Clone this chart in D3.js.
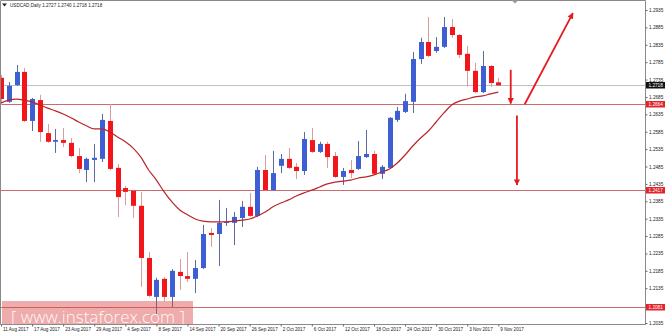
<!DOCTYPE html>
<html>
<head>
<meta charset="utf-8">
<script src="https://cdn.jsdelivr.net/npm/d3@7"></script>
<style>
body { margin: 0; background: #fff; }
svg text { font-family: "Liberation Sans", Arial, sans-serif; }
</style>
</head>
<body>
<svg id="chart" width="665" height="335"></svg>
<script>
// USDCAD daily, 11 Aug 2017 - 9 Nov 2017
var dates = ["2017-08-11","2017-08-14","2017-08-15","2017-08-16","2017-08-17","2017-08-18","2017-08-21","2017-08-22","2017-08-23","2017-08-24",
    "2017-08-25","2017-08-28","2017-08-29","2017-08-30","2017-08-31","2017-09-01","2017-09-04","2017-09-05","2017-09-06","2017-09-07",
    "2017-09-08","2017-09-11","2017-09-12","2017-09-13","2017-09-14","2017-09-15","2017-09-18","2017-09-19","2017-09-20","2017-09-21",
    "2017-09-22","2017-09-25","2017-09-26","2017-09-27","2017-09-28","2017-09-29","2017-10-02","2017-10-03","2017-10-04","2017-10-05",
    "2017-10-06","2017-10-09","2017-10-10","2017-10-11","2017-10-12","2017-10-13","2017-10-16","2017-10-17","2017-10-18","2017-10-19",
    "2017-10-20","2017-10-23","2017-10-24","2017-10-25","2017-10-26","2017-10-27","2017-10-30","2017-10-31","2017-11-01","2017-11-02",
    "2017-11-03","2017-11-06","2017-11-07","2017-11-08","2017-11-09"];
var open = [1.2740, 1.2671, 1.2719, 1.2757, 1.2616, 1.2676, 1.2581, 1.2556, 1.2561, 1.2553,
    1.2515, 1.2475, 1.2504, 1.2507, 1.2616, 1.2481, 1.2423, 1.2415, 1.2372, 1.2222,
    1.2110, 1.2162, 1.2110, 1.2182, 1.2170, 1.2162, 1.2193, 1.2294, 1.2291, 1.2323,
    1.2323, 1.2337, 1.2369, 1.2343, 1.2475, 1.2417, 1.2487, 1.2507, 1.2484, 1.2472,
    1.2561, 1.2527, 1.2550, 1.2515, 1.2455, 1.2475, 1.2478, 1.2512, 1.2521, 1.2464,
    1.2481, 1.2619, 1.2642, 1.2671, 1.2794, 1.2843, 1.2817, 1.2829, 1.2886, 1.2863,
    1.2809, 1.2760, 1.2699, 1.2774, 1.2727];
var high = [1.2748, 1.2728, 1.2777, 1.2768, 1.2682, 1.2691, 1.2607, 1.2593, 1.2596, 1.2567,
    1.2538, 1.2510, 1.2550, 1.2636, 1.2665, 1.2492, 1.2429, 1.2417, 1.2412, 1.2239,
    1.2165, 1.2167, 1.2190, 1.2219, 1.2239, 1.2216, 1.2317, 1.2308, 1.2389, 1.2366,
    1.2354, 1.2386, 1.2409, 1.2484, 1.2518, 1.2530, 1.2521, 1.2538, 1.2495, 1.2584,
    1.2596, 1.2556, 1.2556, 1.2527, 1.2481, 1.2504, 1.2558, 1.2590, 1.2530, 1.2489,
    1.2627, 1.2656, 1.2694, 1.2814, 1.2855, 1.2915, 1.2857, 1.2915, 1.2909, 1.2866,
    1.2832, 1.2783, 1.2817, 1.2777, 1.2740];
var low = [1.2662, 1.2668, 1.2717, 1.2613, 1.2587, 1.2556, 1.2553, 1.2524, 1.2541, 1.2512,
    1.2466, 1.2440, 1.2440, 1.2498, 1.2475, 1.2340, 1.2374, 1.2337, 1.2139, 1.2110,
    1.2061, 1.2098, 1.2081, 1.2130, 1.2153, 1.2121, 1.2190, 1.2254, 1.2199, 1.2314,
    1.2259, 1.2311, 1.2340, 1.2340, 1.2415, 1.2415, 1.2466, 1.2478, 1.2449, 1.2461,
    1.2524, 1.2524, 1.2481, 1.2452, 1.2432, 1.2452, 1.2475, 1.2510, 1.2461, 1.2449,
    1.2478, 1.2613, 1.2639, 1.2639, 1.2780, 1.2800, 1.2812, 1.2826, 1.2855, 1.2797,
    1.2714, 1.2696, 1.2696, 1.2714, 1.2718];
var close = [1.2679, 1.2717, 1.2757, 1.2616, 1.2679, 1.2584, 1.2556, 1.2561, 1.2553, 1.2515,
    1.2478, 1.2507, 1.2510, 1.2619, 1.2478, 1.2397, 1.2412, 1.2372, 1.2222, 1.2113,
    1.2159, 1.2110, 1.2185, 1.2170, 1.2162, 1.2193, 1.2291, 1.2288, 1.2323, 1.2326,
    1.2340, 1.2369, 1.2343, 1.2475, 1.2417, 1.2466, 1.2507, 1.2481, 1.2472, 1.2564,
    1.2527, 1.2550, 1.2512, 1.2455, 1.2472, 1.2466, 1.2515, 1.2521, 1.2464, 1.2484,
    1.2625, 1.2645, 1.2673, 1.2794, 1.2843, 1.2803, 1.2829, 1.2886, 1.2863, 1.2806,
    1.2760, 1.2699, 1.2774, 1.2725, 1.2718];
// moving average as drawn on the chart
var ma = [1.2668, 1.2676, 1.2679, 1.2676, 1.2671, 1.2662, 1.2653, 1.2645, 1.2636, 1.2625,
    1.2613, 1.2602, 1.2593, 1.2593, 1.2584, 1.2570, 1.2556, 1.2538, 1.2512, 1.2475,
    1.2446, 1.2412, 1.2383, 1.2360, 1.2346, 1.2334, 1.2328, 1.2326, 1.2326, 1.2326,
    1.2328, 1.2331, 1.2334, 1.2343, 1.2354, 1.2369, 1.2380, 1.2389, 1.2400, 1.2409,
    1.2417, 1.2426, 1.2435, 1.2440, 1.2443, 1.2446, 1.2452, 1.2455, 1.2461, 1.2469,
    1.2478, 1.2495, 1.2518, 1.2544, 1.2567, 1.2587, 1.2613, 1.2639, 1.2662, 1.2673,
    1.2679, 1.2685, 1.2688, 1.2694, 1.2699];
var priceTicks = [1.2935, 1.2885, 1.2835, 1.2785, 1.2735, 1.2685, 1.2635, 1.2585, 1.2535, 1.2485,
    1.2435, 1.2385, 1.2335, 1.2285, 1.2235, 1.2185, 1.2135, 1.2085, 1.2035];
var levels = [1.2664, 1.2417, 1.2081];
var bid = 1.2718;
var title = "USDCAD,Daily  1.2727 1.2740 1.2718 1.2718";
// arrows: [bar index, price] -> [bar index, price]
var arrows = [
    [[65.6, 1.2763], [65.6, 1.2666]],
    [[66.4, 1.2632], [66.4, 1.2432]],
    [[67.4, 1.2664], [73.6, 1.2926]]
];
var watermark = "[  www.instaforex.com  ]";

var width = 665, height = 335;
var plotRight = 645, plotBottom = 324;

var svg = d3.select("#chart");

var x = d3.scaleLinear().domain([0, dates.length - 1]).range([1, 498.3]);
var y = d3.scaleLinear().domain([1.2935, 1.2035]).range([10, 323]);

var parse = d3.timeParse("%Y-%m-%d");
var fmt = d3.timeFormat("%-d %b %Y");

var defs = svg.append("defs");
defs.append("clipPath").attr("id", "plot")
    .append("rect").attr("x", 1).attr("y", 1).attr("width", plotRight - 1).attr("height", plotBottom - 1);
defs.append("marker")
    .attr("id", "head")
    .attr("viewBox", "0 0 10 10")
    .attr("refX", 9).attr("refY", 5)
    .attr("markerWidth", 3.4).attr("markerHeight", 3.4)
    .attr("orient", "auto")
    .append("path").attr("d", "M0,0L10,5L0,10z").attr("fill", "#e8191e");

var plot = svg.append("g").attr("clip-path", "url(#plot)");

// horizontal levels
plot.append("line")
    .attr("x1", 0).attr("x2", plotRight)
    .attr("y1", Math.round(y(bid)) + 0.5).attr("y2", Math.round(y(bid)) + 0.5)
    .attr("stroke", "#b9c3cc").attr("stroke-width", 1);
plot.selectAll(".level")
    .data(levels)
    .enter()
    .append("line")
    .attr("class", "level")
    .attr("x1", 0).attr("x2", plotRight)
    .attr("y1", function (d) { return Math.round(y(d)) + 0.5; })
    .attr("y2", function (d) { return Math.round(y(d)) + 0.5; })
    .attr("stroke", "#cf6b6b").attr("stroke-width", 1);

// candles
var bars = d3.range(dates.length).map(function (i) {
    return {i: i, o: open[i], h: high[i], l: low[i], c: close[i]};
});
var candle = plot.selectAll(".candle")
    .data(bars)
    .enter()
    .append("g")
    .attr("class", "candle");
candle.append("line")
    .attr("x1", function (d) { return Math.round(x(d.i)) + 0.5; })
    .attr("x2", function (d) { return Math.round(x(d.i)) + 0.5; })
    .attr("y1", function (d) { return y(d.h); })
    .attr("y2", function (d) { return y(d.l); })
    .attr("stroke", function (d) { return d.c >= d.o ? "#5d6b9c" : "#d79c9c"; })
    .attr("stroke-width", 1);
candle.append("rect")
    .attr("x", function (d) { return Math.round(x(d.i)) - 2; })
    .attr("width", 5)
    .attr("y", function (d) { return y(Math.max(d.o, d.c)); })
    .attr("height", function (d) { return Math.max(1.2, Math.abs(y(d.o) - y(d.c))); })
    .attr("fill", function (d) { return d.c >= d.o ? "#3e5fd3" : "#f2161a"; });

// moving average
plot.append("path")
    .datum(ma)
    .attr("fill", "none")
    .attr("stroke", "#b8262a")
    .attr("stroke-width", 1.2)
    .attr("d", d3.line()
        .x(function (d, i) { return x(i); })
        .y(function (d) { return y(d); })
        .curve(d3.curveMonotoneX));

// arrows
plot.selectAll(".arrow")
    .data(arrows)
    .enter()
    .append("line")
    .attr("class", "arrow")
    .attr("x1", function (d) { return x(d[0][0]); })
    .attr("y1", function (d) { return y(d[0][1]); })
    .attr("x2", function (d) { return x(d[1][0]); })
    .attr("y2", function (d) { return y(d[1][1]); })
    .attr("stroke", "#e8191e")
    .attr("stroke-width", 1.8)
    .attr("marker-end", "url(#head)");

// watermark
svg.append("rect")
    .attr("x", 2).attr("y", 301)
    .attr("width", 191).attr("height", 23)
    .attr("fill", "rgb(218, 70, 70)")
    .attr("fill-opacity", 0.45);
svg.append("text")
    .attr("x", 11).attr("y", 322.5)
    .attr("fill", "#fff")
    .attr("fill-opacity", 0.95)
    .style("font-family", "'Open Sans', sans-serif")
    .style("font-weight", 300)
    .style("font-size", "17px")
    .attr("textLength", 174)
    .text(watermark);

// frame
svg.append("path")
    .attr("d", "M0.5," + plotBottom + ".5V0.5H" + plotRight + ".5V" + plotBottom + ".5H0.5")
    .attr("fill", "none")
    .attr("stroke", "#8a8a8a")
    .attr("stroke-width", 1);

// price axis
var yAxis = svg.append("g")
    .attr("transform", "translate(" + (plotRight + 0.5) + ",0)")
    .call(d3.axisRight(y).tickValues(priceTicks).tickFormat(d3.format(".4f")).tickSize(2).tickPadding(1.5));
yAxis.select(".domain").remove();
yAxis.selectAll("line").attr("stroke", "#666");
yAxis.selectAll("text").attr("fill", "#222").style("font-size", "4.7px");

// current price and level tags
var tags = [{v: bid, c: "#111"}].concat(levels.map(function (d) { return {v: d, c: "#e3242b"}; }));
var tag = svg.selectAll(".tag")
    .data(tags)
    .enter()
    .append("g")
    .attr("class", "tag")
    .attr("transform", function (d) { return "translate(" + (plotRight + 1) + "," + Math.round(y(d.v)) + ")"; });
tag.append("rect")
    .attr("x", 0).attr("y", -3)
    .attr("width", 19).attr("height", 6.5)
    .attr("fill", function (d) { return d.c; });
tag.append("text")
    .attr("x", 2.5).attr("y", 1.8)
    .attr("fill", "#fff")
    .style("font-size", "4.7px")
    .text(function (d) { return d3.format(".4f")(d.v); });

// date axis
var xAxis = svg.append("g")
    .attr("transform", "translate(0," + (plotBottom + 0.5) + ")")
    .call(d3.axisBottom(x)
        .tickValues(d3.range(0, dates.length, 4))
        .tickFormat(function (i) { return fmt(parse(dates[i])); })
        .tickSize(2).tickPadding(1.5));
xAxis.select(".domain").remove();
xAxis.selectAll("line").attr("stroke", "#666");
xAxis.selectAll("text")
    .attr("text-anchor", "start")
    .attr("dx", 1.5)
    .attr("fill", "#222")
    .style("font-size", "4.6px");

// title
svg.append("path").attr("d", "M2,3.5H7L4.5,6.5z").attr("fill", "#222");
svg.append("text")
    .attr("x", 10).attr("y", 7)
    .attr("fill", "#222")
    .style("font-size", "4.6px")
    .text(title);

// chart shift marker
svg.append("path").attr("d", "M512,0.5H518L515,3.5z").attr("fill", "#9a9a9a");
</script>
</body>
</html>
